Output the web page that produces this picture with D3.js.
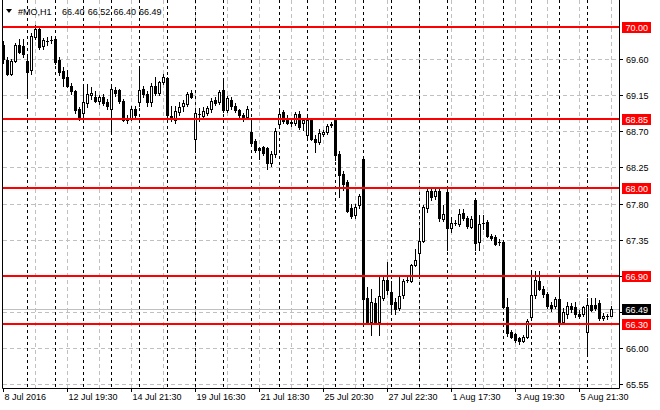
<!DOCTYPE html>
<html><head><meta charset="utf-8">
<script src="https://cdn.jsdelivr.net/npm/d3@7"></script>
<style>
html,body{margin:0;padding:0;background:#fff;}
svg{display:block;font-family:'Liberation Sans',Arial,sans-serif;}
</style>
</head><body>
<svg id="c" width="660" height="410"></svg>
<script>
// ---------- data ----------
const symbol = "#MO,H1";
const timeLabels = ["8 Jul 2016","12 Jul 19:30","14 Jul 21:30","19 Jul 16:30","21 Jul 18:30","25 Jul 20:30","27 Jul 22:30","1 Aug 17:30","3 Aug 19:30","5 Aug 21:30"];
const labelBars = [0,16,32,48,64,80,96,112,128,144];
const gridBars = [8,16,24,32,40,48,56,64,72,80,88,96,104,112,120,128,136,144,152];
const dayStarts = [6,13,20,27,34,41,48,55,62,69,76,83,90,97,104,111,118,125,132,139,146];
const priceTicks = [65.55,66.00,66.45,66.90,67.35,67.80,68.25,68.70,69.15,69.60];
const levels = [70.00,68.85,68.00,66.90,66.30];
const bid = 66.49;

const open = [69.78,69.59,69.42,69.58,69.77,69.76,69.58,69.46,69.88,69.97,
69.76,69.83,69.84,69.85,69.59,69.45,69.38,69.27,69.20,68.98,
68.93,69.05,69.15,69.13,69.08,69.13,69.06,68.98,69.22,69.21,
69.08,68.87,68.86,68.98,69.06,69.23,69.17,69.06,69.27,69.18,
69.31,69.36,68.89,68.84,68.94,69.01,69.04,69.18,68.61,68.92,
68.89,68.93,68.98,69.09,69.06,69.22,68.97,69.09,69.02,68.96,
68.90,68.88,68.69,68.58,68.49,68.50,68.49,68.30,68.42,68.79,
68.94,68.86,68.82,68.81,68.92,68.80,68.65,68.84,68.61,68.57,
68.67,68.69,68.78,68.84,68.42,68.17,68.07,67.75,67.66,67.78,
68.36,66.63,66.32,66.56,66.32,66.63,66.85,66.70,66.57,66.50,
66.66,66.85,66.84,67.04,67.18,67.34,67.75,67.96,67.90,67.96,
67.61,67.95,67.50,67.56,67.55,67.68,67.62,67.51,67.85,67.32,
67.56,67.57,67.40,67.39,67.32,67.32,66.51,66.20,66.17,66.12,
66.09,66.14,66.39,66.66,66.84,66.74,66.67,66.54,66.53,66.61,
66.33,66.43,66.52,66.51,66.42,66.42,66.20,66.54,66.54,66.56,
66.37,66.40,66.40];
const high = [69.82,69.62,69.60,69.80,69.85,69.85,69.62,69.92,70.02,70.00,
69.86,69.88,69.89,69.87,69.62,69.50,69.46,69.30,69.22,69.00,
69.29,69.29,69.25,69.20,69.15,69.16,69.10,69.26,69.25,69.23,
69.10,68.90,69.01,69.01,69.48,69.26,69.20,69.30,69.38,69.33,
69.42,69.38,69.02,69.02,69.06,69.09,69.19,69.21,68.96,68.99,
69.00,69.02,69.12,69.13,69.21,69.34,69.14,69.13,69.05,68.98,
68.93,69.02,68.85,68.60,68.51,68.52,68.51,68.45,68.74,68.95,
68.97,68.90,68.86,68.94,68.95,68.87,68.88,68.86,68.66,68.73,
68.72,68.79,68.82,68.85,68.45,68.20,68.10,67.79,67.80,67.92,
68.36,66.76,66.74,66.62,66.88,66.90,67.07,66.83,66.62,66.88,
66.86,66.88,67.05,67.24,67.46,67.78,68.00,68.01,67.99,68.00,
67.78,67.98,67.63,67.59,67.73,67.73,67.65,67.64,67.87,67.66,
67.66,67.60,67.42,67.41,67.36,67.34,66.62,66.23,66.19,66.14,
66.16,66.36,66.93,66.96,66.96,66.77,66.70,66.58,66.64,66.86,
66.50,66.58,66.56,66.58,66.47,66.53,66.62,66.63,66.63,66.60,
66.44,66.43,66.52];
const low = [69.55,69.40,69.40,69.56,69.67,69.63,69.15,69.42,69.85,69.73,
69.72,69.78,69.80,69.54,69.40,69.26,69.25,69.17,68.93,68.84,
68.86,69.00,69.10,69.06,69.04,69.03,68.98,68.71,69.14,69.05,
68.83,68.80,68.84,68.87,69.02,69.13,69.02,69.02,69.15,69.15,
69.29,68.85,68.83,68.80,68.90,68.95,69.02,69.11,68.48,68.83,
68.85,68.90,68.94,69.03,69.04,68.94,68.94,68.98,68.94,68.88,
68.83,68.86,68.54,68.44,68.35,68.40,68.23,68.27,68.38,68.76,
68.80,68.79,68.77,68.78,68.73,68.72,68.62,68.59,68.44,68.54,
68.64,68.67,68.75,68.34,67.88,67.97,67.70,67.62,67.62,67.75,
66.32,66.30,66.16,66.31,66.16,66.60,66.68,66.46,66.43,66.47,
66.62,66.82,66.82,67.02,66.89,67.32,67.70,67.85,67.86,67.58,
67.58,67.22,67.44,67.53,67.52,67.60,67.50,67.49,67.22,67.22,
67.48,67.38,67.35,67.28,67.29,66.51,66.15,66.12,66.07,66.05,
66.07,66.12,66.35,66.62,66.72,66.64,66.50,66.46,66.50,66.28,
66.30,66.38,66.45,66.39,66.37,66.40,65.90,66.46,66.47,66.35,
66.35,66.36,66.40];
const close = [69.60,69.42,69.58,69.77,69.69,69.66,69.44,69.89,69.98,69.75,
69.84,69.83,69.84,69.56,69.44,69.37,69.26,69.20,68.96,68.87,
69.06,69.16,69.18,69.08,69.13,69.05,69.01,69.23,69.18,69.08,
68.84,68.84,68.98,68.90,69.22,69.16,69.06,69.27,69.18,69.31,
69.38,68.90,68.86,68.95,69.00,69.05,69.17,69.13,68.93,68.92,
68.95,68.99,69.08,69.05,69.19,68.96,69.11,69.01,68.96,68.90,
68.86,68.98,68.56,68.47,68.47,68.43,68.30,68.42,68.71,68.91,
68.83,68.81,68.80,68.92,68.76,68.84,68.84,68.61,68.57,68.68,
68.69,68.77,68.79,68.40,68.15,68.04,67.71,67.65,67.76,67.89,
66.61,66.31,66.57,66.33,66.65,66.85,66.72,66.55,66.49,66.65,
66.84,66.85,67.04,67.10,67.34,67.76,67.96,67.88,67.96,67.62,
67.67,67.50,67.56,67.56,67.67,67.62,67.52,67.61,67.31,67.55,
67.56,67.40,67.37,67.30,67.32,66.51,66.19,66.14,66.10,66.09,
66.14,66.34,66.66,66.85,66.74,66.67,66.52,66.50,66.61,66.31,
66.45,66.53,66.49,66.42,66.40,66.51,66.54,66.48,66.50,66.37,
66.40,66.40,66.49];

// ---------- drawing ----------
const svg = d3.select("#c");
const n = open.length;
const x = d3.scaleLinear().domain([0, n-1]).range([3, 611]);
const y = d3.scaleLinear().domain([65.503, 70.336]).range([388, 0]);
const px = i => Math.round(x(i));
const py = v => Math.round(y(v));
const L = 3, R = 619, B = 388;
const fmt = d3.format(".2f");

svg.append("rect").attr("width",660).attr("height",410).attr("fill","#fff");

// horizontal grid
svg.append("g").selectAll("line").data(priceTicks).join("line")
  .attr("x1", L).attr("x2", R)
  .attr("y1", d => py(d)+0.5).attr("y2", d => py(d)+0.5)
  .attr("stroke","#c0c0c0").attr("stroke-dasharray","4,3");
// vertical grid
svg.append("g").selectAll("line").data(gridBars).join("line")
  .attr("x1", d => px(d)+0.5).attr("x2", d => px(d)+0.5)
  .attr("y1", 0).attr("y2", B)
  .attr("stroke","#c0c0c0").attr("stroke-dasharray","4,3");
// day separators
svg.append("g").selectAll("line").data(dayStarts).join("line")
  .attr("x1", d => px(d)+0.5).attr("x2", d => px(d)+0.5)
  .attr("y1", 0).attr("y2", B)
  .attr("stroke","#000").attr("stroke-dasharray","3,3");
// bid line
svg.append("line").attr("x1",L).attr("x2",R)
  .attr("y1",py(bid)+0.5).attr("y2",py(bid)+0.5)
  .attr("stroke","#c0c0c0");

// candles
const idx = d3.range(n);
const cg = svg.append("g");
cg.selectAll("line.w").data(idx).join("line").attr("class","w")
  .attr("x1", i => px(i)+0.5).attr("x2", i => px(i)+0.5)
  .attr("y1", i => py(high[i])).attr("y2", i => py(low[i])+1)
  .attr("stroke","#000");
cg.selectAll("rect.b").data(idx).join("rect").attr("class","b")
  .each(function(i){
    const top = py(Math.max(open[i], close[i]));
    const bot = py(Math.min(open[i], close[i]));
    const h = bot - top;
    const s = d3.select(this);
    if (close[i] > open[i] && h >= 2) {
      s.attr("x", px(i)-0.5).attr("y", top+0.5).attr("width",2).attr("height",h)
       .attr("fill","#fff").attr("stroke","#000");
    } else {
      s.attr("x", px(i)-1).attr("y", top).attr("width",3).attr("height",h+1)
       .attr("fill","#000");
    }
  });

// level lines
svg.append("g").selectAll("rect").data(levels).join("rect")
  .attr("x", L).attr("width", R-L).attr("y", d => py(d)-1).attr("height",2)
  .attr("fill","#ff0000");

// frame
svg.append("path").attr("d",`M${L-0.5},0V${B+0.5}H${R+0.5}V0`)
  .attr("fill","none").attr("stroke","#000");

// y axis labels
const shown = priceTicks.filter(t => levels.concat([bid]).every(l => Math.abs(l-t) > 0.1));
const ya = svg.append("g").attr("font-size","9px").attr("fill","#000");
ya.selectAll("line").data(priceTicks).join("line")
  .attr("x1",R+0.5).attr("x2",R+4).attr("y1",d=>py(d)+0.5).attr("y2",d=>py(d)+0.5)
  .attr("stroke","#000");
ya.selectAll("text").data(shown).join("text")
  .attr("x",626).attr("y",d=>py(d)+4).text(d=>fmt(d));

// level boxes
const lb = svg.append("g").attr("font-size","9px");
levels.forEach(v => {
  lb.append("rect").attr("x",622).attr("y",py(v)-5).attr("width",29).attr("height",11).attr("fill","#ff0000");
  lb.append("text").attr("x",625.5).attr("y",py(v)+4).attr("fill","#fff").text(fmt(v));
});
lb.append("rect").attr("x",622).attr("y",py(bid)-5).attr("width",29).attr("height",11).attr("fill","#000");
lb.append("text").attr("x",625.5).attr("y",py(bid)+4).attr("fill","#fff").text(fmt(bid));

// x axis labels
const xa = svg.append("g").attr("font-size","9px").attr("fill","#000");
xa.selectAll("line").data(labelBars).join("line")
  .attr("x1",d=>px(d)+0.5).attr("x2",d=>px(d)+0.5).attr("y1",B+0.5).attr("y2",B+4)
  .attr("stroke","#000");
xa.selectAll("text").data(labelBars).join("text")
  .attr("x",d=>px(d)+1.5).attr("y",400).text((d,k)=>timeLabels[k]);

// header
const hd = svg.append("g").attr("font-size","9px").attr("fill","#000");
hd.append("path").attr("d","M6,9L12,9L9,13Z").attr("fill","#000");
hd.append("text").attr("x",18).attr("y",15).text(symbol);
const last = n-1;
[open[last], high[last], low[last], close[last]].forEach((v,k) => {
  hd.append("text").attr("x",62 + k*25.7).attr("y",15).text(fmt(v));
});
</script>
</body></html>
